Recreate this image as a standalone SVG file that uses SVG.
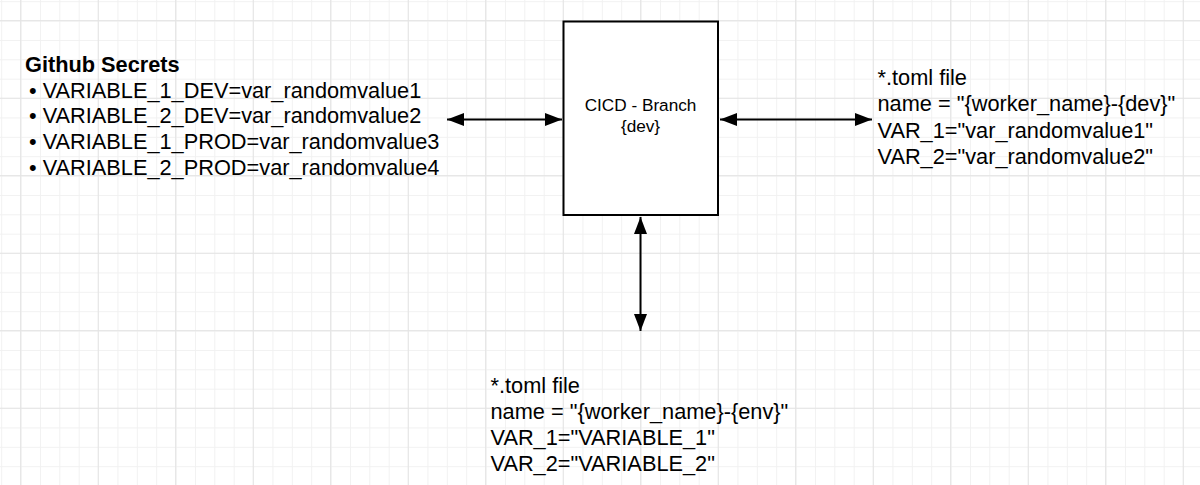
<svg xmlns="http://www.w3.org/2000/svg" width="1200" height="485" viewBox="0 0 1200 485">
  <style>
    .t { font-family: "Liberation Sans", Arial, sans-serif; font-size: 21.75px; fill: #000; }
    .b { font-weight: bold; }
    .box { fill: #fff; stroke: #000; stroke-width: 2; }
    .conn { stroke: #000; stroke-width: 2; fill: none; marker-start: url(#ah); marker-end: url(#ah); }
    .c { font-family: "Liberation Sans", Arial, sans-serif; font-size: 17.2px; fill: #000; text-anchor: middle; }
  </style>
  <defs>
    <pattern id="minor" x="1.2" y="1.2" width="19.375" height="19.375" patternUnits="userSpaceOnUse">
      <rect x="0" y="0" width="1" height="19.375" fill="#f1f1f1"/>
      <rect x="0" y="0" width="19.375" height="1" fill="#f1f1f1"/>
    </pattern>
    <pattern id="major" x="20.2" y="20.2" width="77.5" height="77.5" patternUnits="userSpaceOnUse">
      <rect x="0" y="0" width="1" height="77.5" fill="#e3e3e3"/>
      <rect x="0" y="0" width="77.5" height="1" fill="#e3e3e3"/>
    </pattern>
    <marker id="ah" viewBox="0 0 17 13" refX="17" refY="6.5" markerWidth="17" markerHeight="13" markerUnits="userSpaceOnUse" orient="auto-start-reverse">
      <path d="M0 0 L17 6.5 L0 13 Z" fill="#000"/>
    </marker>
  </defs>

  <g id="grid">
    <rect width="1200" height="485" fill="#fff"/>
    <rect width="1200" height="485" fill="url(#minor)"/>
    <rect width="1200" height="485" fill="url(#major)"/>
  </g>

  <g id="connectors">
    <line class="conn" x1="447" y1="119.5" x2="562" y2="119.5"/>
    <line class="conn" x1="720" y1="119.5" x2="872" y2="119.5"/>
    <line class="conn" x1="640.5" y1="217" x2="640.5" y2="331"/>
  </g>

  <g id="github-secrets">
    <text class="t b" x="25" y="72">Github Secrets</text>
    <text class="t" x="29" y="97.5">• VARIABLE_1_DEV=var_randomvalue1</text>
    <text class="t" x="29" y="123.3">• VARIABLE_2_DEV=var_randomvalue2</text>
    <text class="t" x="29" y="149.1">• VARIABLE_1_PROD=var_randomvalue3</text>
    <text class="t" x="29" y="174.9">• VARIABLE_2_PROD=var_randomvalue4</text>
  </g>

  <g id="cicd-branch">
    <rect class="box" x="563.5" y="21.5" width="154.5" height="193.5"/>
    <text class="c" x="640.5" y="111">CICD - Branch</text>
    <text class="c" x="640.5" y="131.5">{dev}</text>
  </g>

  <g id="toml-dev">
    <text class="t" x="877.5" y="85">*.toml file</text>
    <text class="t" x="877.5" y="111.3">name = "{worker_name}-{dev}"</text>
    <text class="t" x="877.5" y="137.6">VAR_1="var_randomvalue1"</text>
    <text class="t" x="877.5" y="163.9">VAR_2="var_randomvalue2"</text>
  </g>

  <g id="toml-env">
    <text class="t" x="490.5" y="393">*.toml file</text>
    <text class="t" x="490.5" y="419">name = "{worker_name}-{env}"</text>
    <text class="t" x="490.5" y="445">VAR_1="VARIABLE_1"</text>
    <text class="t" x="490.5" y="471">VAR_2="VARIABLE_2"</text>
  </g>
</svg>
